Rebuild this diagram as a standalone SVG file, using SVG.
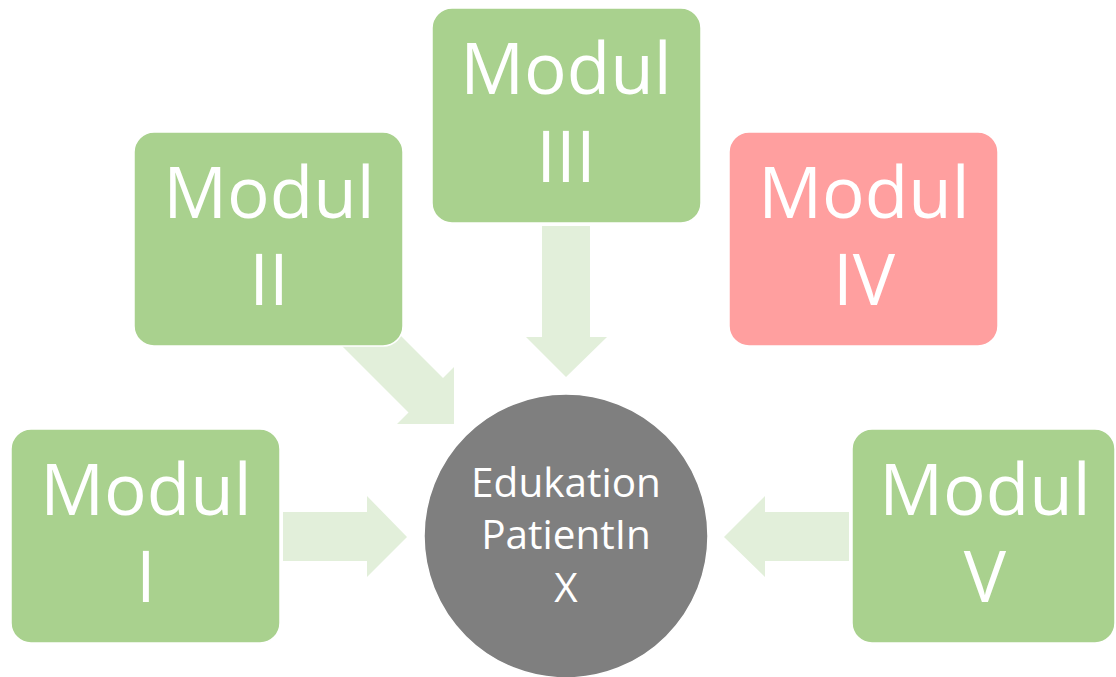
<svg xmlns="http://www.w3.org/2000/svg" width="1116" height="677" viewBox="0 0 1116 677">
  <style>
    .box { stroke: #ffffff; stroke-width: 1.5; }
    .green { fill: #a9d18e; }
    .red { fill: #ff9f9f; }
    .arrow { fill: #e2efda; }
    .label { font-family: "Open Sans", "Liberation Sans", sans-serif; font-size: 71px; fill: #ffffff; text-anchor: middle; }
    .hub { font-family: "Open Sans", "Liberation Sans", sans-serif; font-size: 40.5px; fill: #ffffff; text-anchor: middle; }
  </style>

  <!-- block arrows pointing at the centre -->
  <g id="connectors">
    <polygon class="arrow" points="283,512 367,512 367,496 407,537 367,577 367,561 283,561"/>
    <polygon class="arrow" points="849,512 765,512 765,496 724,537 765,577 765,561 849,561"/>
    <polygon class="arrow" points="542,226 590,226 590,337 607,337 566,377 526,337 542,337"/>
    <polygon class="arrow" points="328,332 408.5,412.5 397,424 454,424 454,367 443,378 362.5,297.5"/>
  </g>

  <g id="modul-1">
    <rect class="box green" x="11" y="429" width="269" height="214" rx="20"/>
    <text class="label" x="146" y="515">Modul</text>
    <text class="label" x="146" y="602">I</text>
  </g>

  <g id="modul-2">
    <rect class="box green" x="134" y="132" width="269" height="214" rx="20"/>
    <text class="label" x="269" y="218">Modul</text>
    <text class="label" x="269" y="305">II</text>
  </g>

  <g id="modul-3">
    <rect class="box green" x="432" y="8" width="269" height="215" rx="20"/>
    <text class="label" x="566" y="94">Modul</text>
    <text class="label" x="566" y="182">III</text>
  </g>

  <g id="modul-4">
    <rect class="box red" x="729" y="132" width="269" height="214" rx="20"/>
    <text class="label" x="864" y="218">Modul</text>
    <text class="label" x="864" y="305">IV</text>
  </g>

  <g id="modul-5">
    <rect class="box green" x="852" y="429" width="263" height="214" rx="20"/>
    <text class="label" x="985" y="515">Modul</text>
    <text class="label" x="985" y="602">V</text>
  </g>

  <g id="edukation">
    <circle cx="566" cy="536" r="142" fill="#7f7f7f" stroke="#ffffff" stroke-width="1.5"/>
    <text class="hub" x="566" y="497">Edukation</text>
    <text class="hub" x="566" y="549">PatientIn</text>
    <text class="hub" x="566" y="602">X</text>
  </g>
</svg>
